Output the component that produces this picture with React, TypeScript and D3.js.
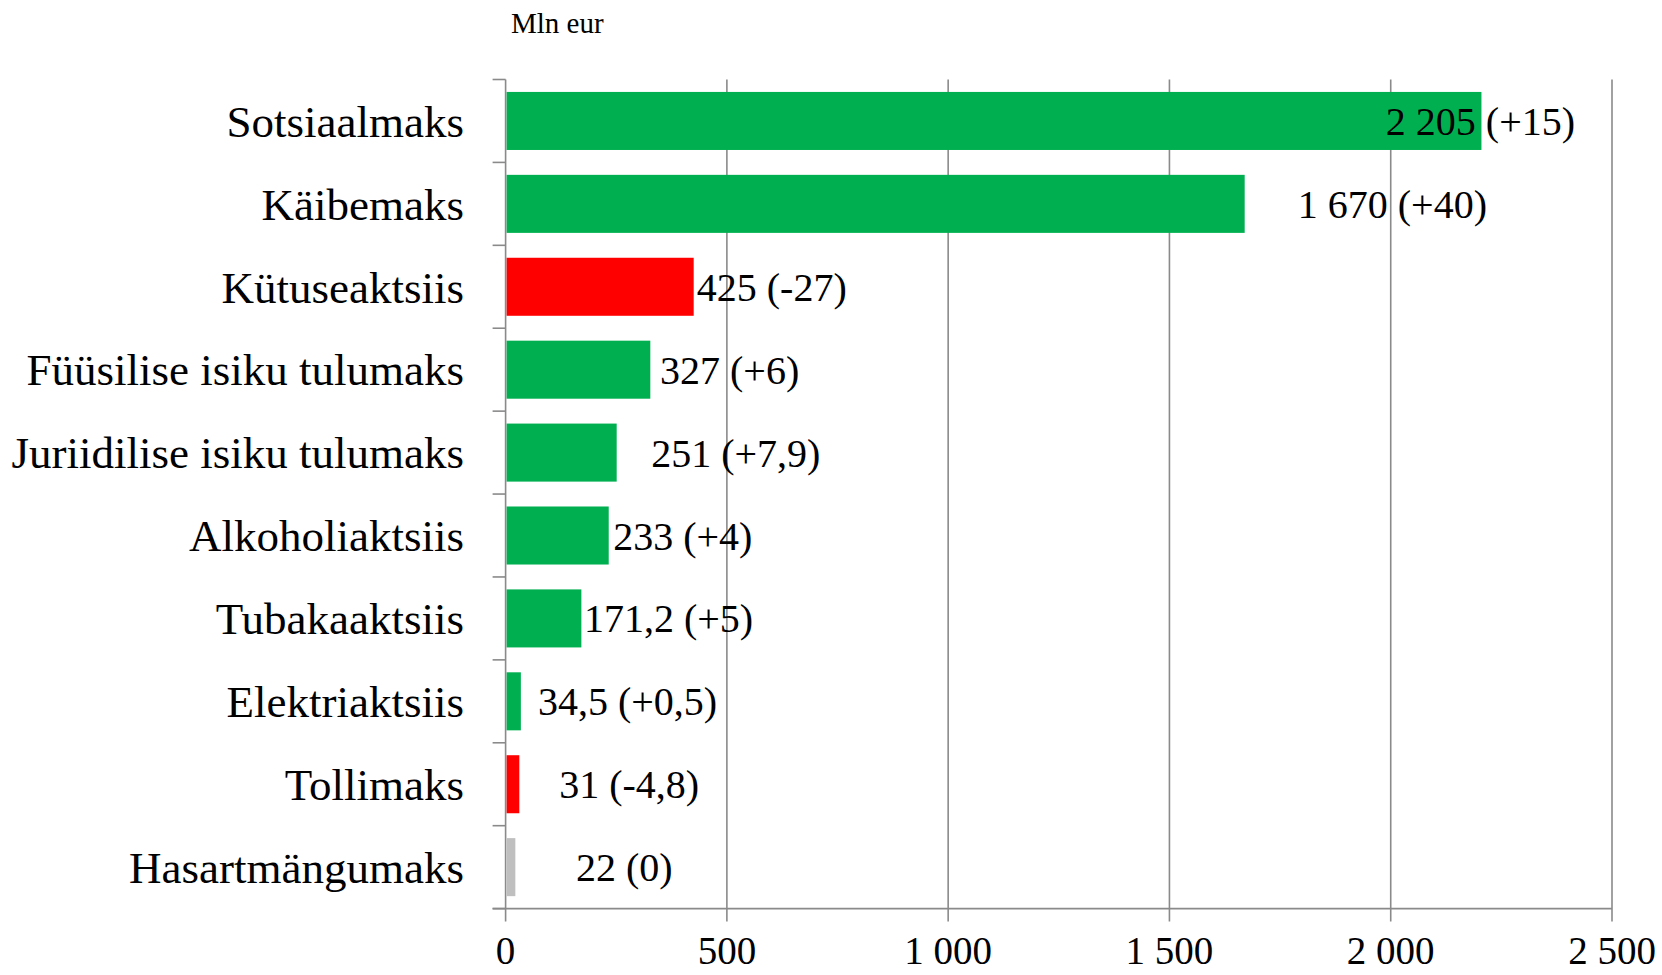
import React from "react";
import * as d3 from "d3";

const categories = [
  "Sotsiaalmaks",
  "Käibemaks",
  "Kütuseaktsiis",
  "Füüsilise isiku tulumaks",
  "Juriidilise isiku tulumaks",
  "Alkoholiaktsiis",
  "Tubakaaktsiis",
  "Elektriaktsiis",
  "Tollimaks",
  "Hasartmängumaks",
];
const values = [2205, 1670, 425, 327, 251, 233, 171.2, 34.5, 31, 22];
const valueLabels = [
  "2 205 (+15)",
  "1 670 (+40)",
  "425 (-27)",
  "327 (+6)",
  "251 (+7,9)",
  "233 (+4)",
  "171,2 (+5)",
  "34,5 (+0,5)",
  "31 (-4,8)",
  "22 (0)",
];
const changeSign = ["up", "up", "down", "up", "up", "up", "up", "up", "down", "flat"];
// where each value label starts, in axis units (labels were placed by hand)
const labelStart = [1989, 1790, 432, 349, 329, 243, 177, 73, 121, 159];
const xTicks = [0, 500, 1000, 1500, 2000, 2500];
const tickLabels = ["0", "500", "1 000", "1 500", "2 000", "2 500"];
const unitLabel = "Mln eur";

const colorFor: Record<string, string> = {
  up: "#00B050",
  down: "#FF0000",
  flat: "#BFBFBF",
};

export default function App() {
  const W = 1662;
  const H = 975;
  const left = 505.6;
  const right = 1612;
  const top = 79.5;
  const bottom = 908.6;
  const font = "'Liberation Serif', 'Times New Roman', serif";
  const axisColor = "#8a8a8a";

  const x = d3.scaleLinear().domain([0, 2500]).range([left, right]);
  const y = d3
    .scaleBand<string>()
    .domain(categories)
    .range([top, bottom])
    .paddingInner(0.3)
    .paddingOuter(0.15);
  const step = (bottom - top) / categories.length;
  const boundaries = d3.range(categories.length + 1).map((i) => top + i * step);

  return (
    <svg
      width={W}
      height={H}
      style={{ position: "absolute", left: 0, top: 0, background: "#fff" }}
    >
      <text x={511} y={33} fontFamily={font} fontSize={29} fill="#000">
        {unitLabel}
      </text>

      {/* vertical gridlines */}
      {xTicks.map((t) => (
        <line
          key={"g" + t}
          x1={x(t)}
          x2={x(t)}
          y1={top}
          y2={bottom + 13}
          stroke={axisColor}
          strokeWidth={1.6}
        />
      ))}
      {/* x axis line */}
      <line x1={left - 13} x2={right} y1={bottom} y2={bottom} stroke={axisColor} strokeWidth={1.6} />
      {/* category ticks */}
      {boundaries.map((b, i) => (
        <line key={"ct" + i} x1={left - 13} x2={left} y1={b} y2={b} stroke={axisColor} strokeWidth={1.6} />
      ))}

      {/* bars */}
      {categories.map((c, i) => (
        <rect
          key={"b" + c}
          x={x(0) + 1}
          y={y(c)}
          width={Math.max(0, x(values[i]) - x(0) - 1)}
          height={y.bandwidth()}
          fill={colorFor[changeSign[i]]}
        />
      ))}

      {/* category labels */}
      {categories.map((c) => (
        <text
          key={"l" + c}
          x={464}
          y={(y(c) as number) + y.bandwidth() / 2}
          dy="0.35em"
          textAnchor="end"
          fontFamily={font}
          fontSize={45}
          fill="#000"
        >
          {c}
        </text>
      ))}

      {/* value labels */}
      {categories.map((c, i) => (
        <text
          key={"v" + c}
          x={x(labelStart[i])}
          y={(y(c) as number) + y.bandwidth() / 2}
          dy="0.35em"
          fontFamily={font}
          fontSize={40}
          fill="#000"
        >
          {valueLabels[i]}
        </text>
      ))}

      {/* x tick labels */}
      {xTicks.map((t, i) => (
        <text
          key={"t" + t}
          x={x(t)}
          y={964}
          textAnchor="middle"
          fontFamily={font}
          fontSize={39}
          fill="#000"
        >
          {tickLabels[i]}
        </text>
      ))}
    </svg>
  );
}
